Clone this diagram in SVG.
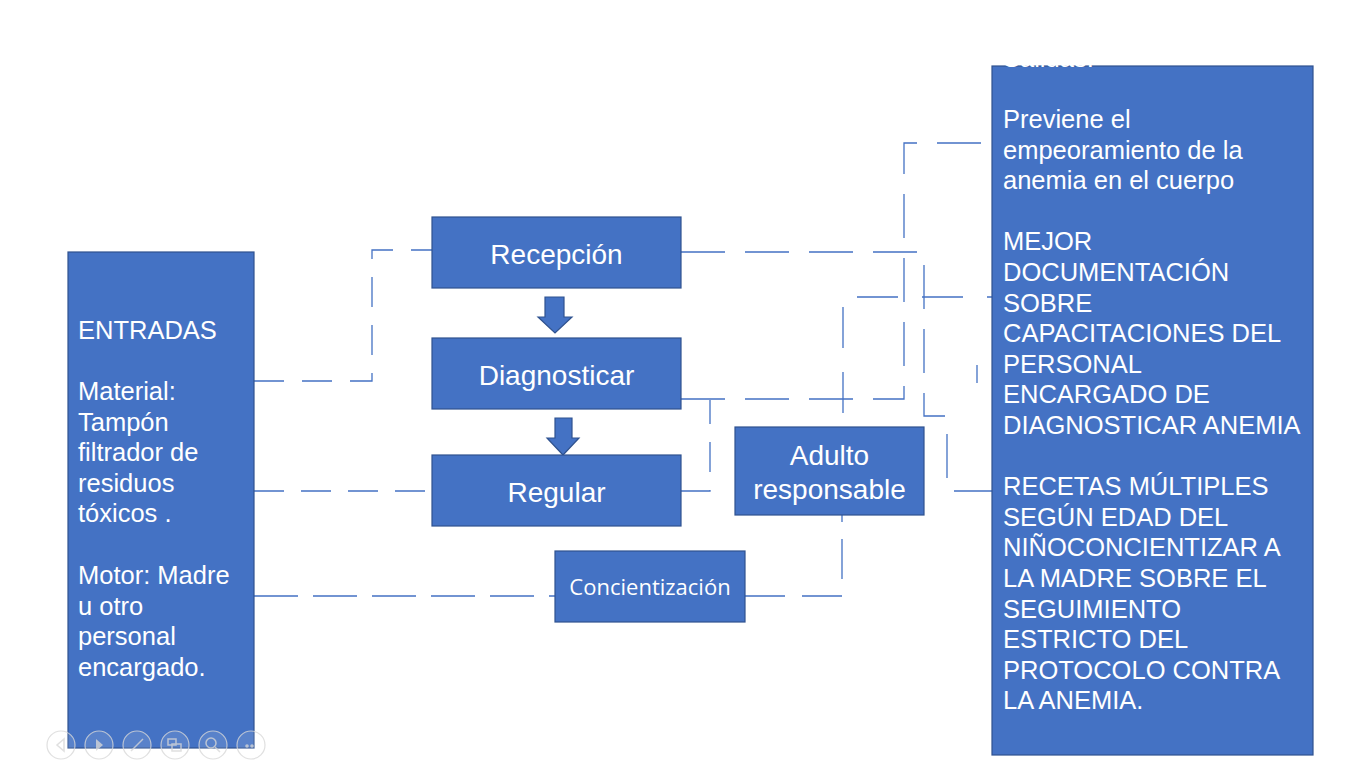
<svg xmlns="http://www.w3.org/2000/svg" width="1366" height="768" viewBox="0 0 1366 768">
<style>
.box{fill:#4472C4;stroke:#2F528F;stroke-width:1.2}
.lbl{font-family:"Liberation Sans",Arial,sans-serif;font-size:28px;fill:#fff;text-anchor:middle}
.body{font-family:"Liberation Sans",Arial,sans-serif;font-size:25.5px;fill:#fff}
.cal{font-family:"Open Sans","Liberation Sans",sans-serif;font-size:22px;fill:#fff;text-anchor:middle}
.con{fill:none;stroke:#4472C4;stroke-width:1.3}
.ctl{fill:#fff;fill-opacity:0.15;stroke:#d9d9d9;stroke-width:1.2}
.ic{fill:none;stroke:#d9d9d9;stroke-width:1.5}
</style>
<rect width="1366" height="768" fill="#fff"/>
<g id="connectors">
<path class="con" stroke-dasharray="30 18" d="M254,381 H372 V250 H432"/>
<path class="con" stroke-dasharray="30 17" d="M254,491 H432"/>
<path class="con" stroke-dasharray="44 15" d="M254,596 H555"/>
<path class="con" stroke-dasharray="40 17" d="M745,596 H842 V515"/>
<path class="con" stroke-dasharray="41 24" stroke-dashoffset="51" d="M843,427 V297 H992"/>
<path class="con" stroke-dasharray="44 20" d="M681,252 H924 V416 H947 V491 H992"/>
<path class="con" stroke-dasharray="44 20" d="M681,399 H904 V143 H992"/>
<path class="con" stroke-dasharray="30 18" d="M681,491 H710 V400 M977,365 V383"/>
</g>
<g id="entradas">
<rect class="box" x="68" y="252" width="186" height="496"/>
<text class="body" x="78" y="339">ENTRADAS</text>
<text class="body" x="78" y="400">Material:</text>
<text class="body" x="78" y="430.6">Tampón</text>
<text class="body" x="78" y="461.2">filtrador de</text>
<text class="body" x="78" y="491.8">residuos</text>
<text class="body" x="78" y="522.4">tóxicos .</text>
<text class="body" x="78" y="584">Motor: Madre</text>
<text class="body" x="78" y="614.6">u otro</text>
<text class="body" x="78" y="645.2">personal</text>
<text class="body" x="78" y="675.8">encargado.</text>
</g>
<g id="recepcion">
<rect class="box" x="432" y="217" width="249" height="71"/>
<text class="lbl" x="556.5" y="264">Recepción</text>
</g>
<g id="arrow1">
<path class="box" d="M545,297 H564 V317 H572 L555,333 L538,317 H545 Z"/>
</g>
<g id="diagnosticar">
<rect class="box" x="432" y="338" width="249" height="71"/>
<text class="lbl" x="556.5" y="385">Diagnosticar</text>
</g>
<g id="arrow2">
<path class="box" d="M555,418 H572 V438 H579 L563,455 L547,438 H555 Z"/>
</g>
<g id="regular">
<rect class="box" x="432" y="455" width="249" height="71"/>
<text class="lbl" x="556.5" y="502">Regular</text>
</g>
<g id="concientizacion">
<rect class="box" x="555" y="551" width="190" height="71"/>
<text class="cal" x="650" y="595">Concientización</text>
</g>
<g id="adulto">
<rect class="box" x="735" y="427" width="189" height="88"/>
<text class="lbl" x="829.5" y="465">Adulto</text>
<text class="lbl" x="829.5" y="499">responsable</text>
</g>
<g id="salidas">
<rect class="box" x="992" y="66" width="321" height="689"/>
<text class="body" x="1003" y="66.8">Salidas:</text>
<text class="body" x="1003" y="128">Previene el</text>
<text class="body" x="1003" y="158.6">empeoramiento de la</text>
<text class="body" x="1003" y="189.2">anemia en el cuerpo</text>
<text class="body" x="1003" y="250.4">MEJOR</text>
<text class="body" x="1003" y="281">DOCUMENTACIÓN</text>
<text class="body" x="1003" y="311.6">SOBRE</text>
<text class="body" x="1003" y="342.2">CAPACITACIONES DEL</text>
<text class="body" x="1003" y="372.8">PERSONAL</text>
<text class="body" x="1003" y="403.4">ENCARGADO DE</text>
<text class="body" x="1003" y="434">DIAGNOSTICAR ANEMIA</text>
<text class="body" x="1003" y="495.2">RECETAS MÚLTIPLES</text>
<text class="body" x="1003" y="525.8">SEGÚN EDAD DEL</text>
<text class="body" x="1003" y="556.4">NIÑOCONCIENTIZAR A</text>
<text class="body" x="1003" y="587">LA MADRE SOBRE EL</text>
<text class="body" x="1003" y="617.6">SEGUIMIENTO</text>
<text class="body" x="1003" y="648.2">ESTRICTO DEL</text>
<text class="body" x="1003" y="678.8">PROTOCOLO CONTRA</text>
<text class="body" x="1003" y="709.4">LA ANEMIA.</text>
</g>
<g id="controls" opacity="0.8">
<circle class="ctl" cx="61" cy="745" r="14"/>
<path class="ic" d="M64,739 L57,745 L64,751 Z"/>
<circle class="ctl" cx="99" cy="745" r="14"/>
<path d="M96,739 L103,745 L96,751 Z" fill="#d9d9d9"/>
<circle class="ctl" cx="137" cy="745" r="14"/>
<path class="ic" d="M131,751 L143,739"/>
<circle class="ctl" cx="175" cy="745" r="14"/>
<rect class="ic" x="168" y="739" width="8" height="6"/>
<rect class="ic" x="172" y="744" width="9" height="7"/>
<circle class="ctl" cx="213" cy="745" r="14"/>
<circle class="ic" cx="211" cy="743" r="5"/>
<path class="ic" d="M215,747 L220,752"/>
<circle class="ctl" cx="251" cy="745" r="14"/>
<circle cx="247" cy="746" r="1.8" fill="#d9d9d9"/>
<circle cx="252" cy="746" r="1.8" fill="#d9d9d9"/>
</g>
</svg>
